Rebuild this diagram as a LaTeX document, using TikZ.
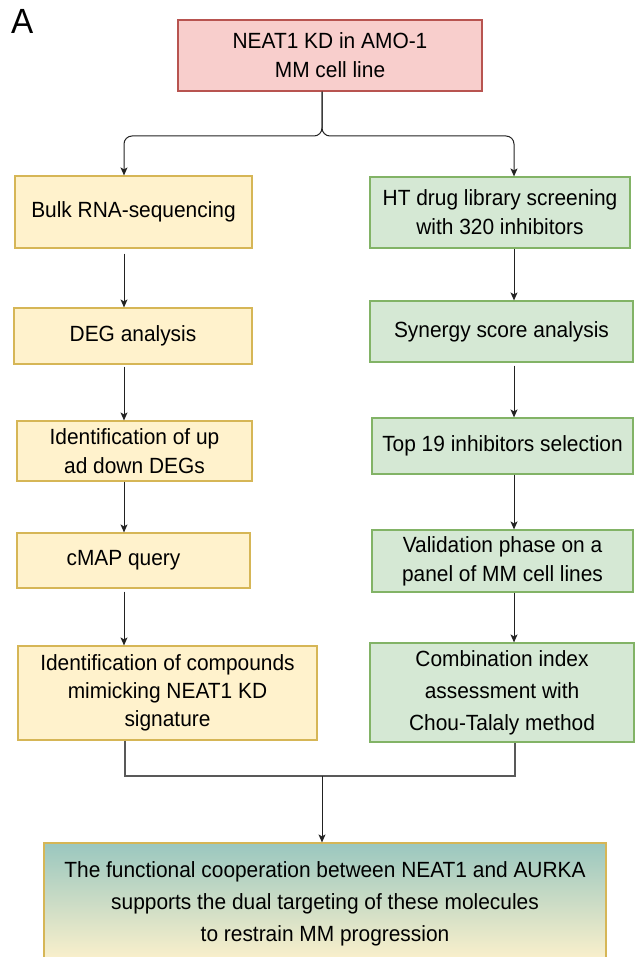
\documentclass[tikz,border=0pt]{standalone}
\usepackage{fontspec}
\setmainfont{Liberation Sans}[FakeStretch=0.95]
\usetikzlibrary{arrows.meta,positioning,calc}

\definecolor{rojoF}{HTML}{F8CECC}
\definecolor{rojoB}{HTML}{B85450}
\definecolor{amaF}{HTML}{FFF2CC}
\definecolor{amaB}{HTML}{D6B656}
\definecolor{verdeF}{HTML}{D5E8D4}
\definecolor{verdeB}{HTML}{82B366}
\definecolor{tealF}{HTML}{9AC7BF}
\definecolor{linea}{HTML}{222222}

\begin{document}
\begin{tikzpicture}[x=1pt,y=-1pt]
  \tikzstyle{caja}=[rectangle, line width=1.2pt, align=center, inner sep=2pt, font=\fontsize{22}{29}\selectfont]
  \tikzstyle{roja}=[caja, draw=rojoB, fill=rojoF]
  \tikzstyle{amarilla}=[caja, draw=amaB, fill=amaF]
  \tikzstyle{verde}=[caja, draw=verdeB, fill=verdeF]
  \tikzstyle{flecha}=[-{Stealth[length=8pt,width=7pt,inset=2pt]}, line width=1pt, linea]
  \tikzstyle{union}=[-, line width=1.1pt, black!65]

  \useasboundingbox (0,0) rectangle (634,957);

  % Etiqueta del panel
  \node[anchor=north west, inner sep=0pt, font=\fontsize{35}{35}\selectfont] (panel) at (11,9) {A};

  % Caja inicial
  \node[roja, minimum width=304pt, minimum height=71pt] (kd) at (330,55.5) {NEAT1 KD in AMO-1\\MM cell line};

  % Columna izquierda (RNA-seq)
  \node[amarilla, minimum width=237pt, minimum height=72pt] (bulk) at (133.5,212) {Bulk RNA-sequencing};
  \node[amarilla, minimum width=238pt, minimum height=56pt] (deg) at (133,336) {DEG analysis};
  \node[amarilla, minimum width=235pt, minimum height=60pt] (updown) at (134.5,451) {Identification of up\\ad down DEGs};
  \node[amarilla, minimum width=233pt, minimum height=55pt] (cmap) at (133.5,560.5) {\hspace*{-20pt}cMAP query};
  \node[amarilla, minimum width=299pt, minimum height=94pt, font=\fontsize{22}{28}\selectfont] (comp) at (167.5,693) {Identification of compounds\\mimicking NEAT1 KD\\signature};

  % Columna derecha (cribado)
  \node[verde, minimum width=260pt, minimum height=71pt] (ht) at (500,212.5) {HT drug library screening\\with 320 inhibitors};
  \node[verde, minimum width=263pt, minimum height=61pt] (syn) at (501.5,331.5) {Synergy score analysis};
  \node[verde, minimum width=261pt, minimum height=56pt] (top) at (502.5,446) {Top 19 inhibitors selection};
  \node[verde, minimum width=261pt, minimum height=62pt] (valid) at (502.5,561) {Validation phase on a\\panel of MM cell lines};
  \node[verde, minimum width=264pt, minimum height=99pt, font=\fontsize{22}{32}\selectfont] (ci) at (502,692.5) {Combination index\\assessment with\\Chou-Talaly method};

  % Conclusion
  \node[caja, draw=amaB, top color=tealF, bottom color=amaF, minimum width=562pt, minimum height=122pt, font=\fontsize{22}{32}\selectfont] (fin) at (325,904) {The functional cooperation between NEAT1 and AURKA\\supports the dual targeting of these molecules\\to restrain MM progression};

  % Ejes de las flechas
  \coordinate (izq) at (124,0);
  \coordinate (der) at (514,0);
  \coordinate (mid) at (322,0);
  \coordinate (rama) at (0,136);
  \coordinate (junta) at (0,776);

  % Llave superior
  \draw[flecha, rounded corners=8pt] (kd.south -| mid) -- (rama -| mid) -- (rama -| izq) -- (bulk.north -| izq);
  \draw[flecha, rounded corners=8pt] (kd.south -| mid) -- (rama -| mid) -- (rama -| der) -- (ht.north -| der);

  % Flechas izquierda
  \draw[flecha] ([yshift=-5pt]bulk.south -| izq) -- (deg.north -| izq);
  \draw[flecha] ([yshift=-2pt]deg.south -| izq) -- (updown.north -| izq);
  \draw[flecha] (updown.south -| izq) -- (cmap.north -| izq);
  \draw[flecha] ([yshift=-3pt]cmap.south -| izq) -- (comp.north -| izq);

  % Flechas derecha
  \draw[flecha] (ht.south -| der) -- (syn.north -| der);
  \draw[flecha] ([yshift=-3pt]syn.south -| der) -- (top.north -| der);
  \draw[flecha] (top.south -| der) -- (valid.north -| der);
  \draw[flecha] (valid.south -| der) -- (ci.north -| der);

  % Union final
  \draw[union] (comp.south -| 125,0) -- (junta -| 125,0) -- (junta -| 515,0) -- (ci.south -| 515,0);
  \draw[flecha] (junta -| mid) -- (fin.north -| mid);
\end{tikzpicture}
\end{document}
